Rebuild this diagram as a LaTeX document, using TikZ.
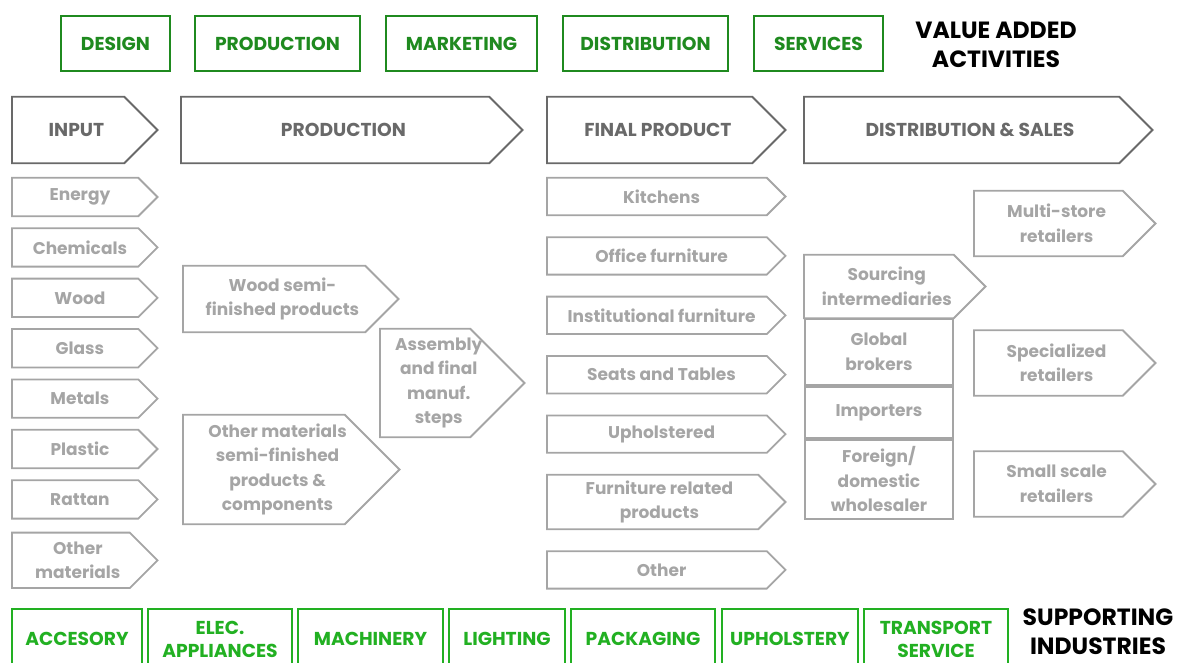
\documentclass[tikz,border=0pt]{standalone}
\usepackage{fontspec}
\setmainfont{Poppins}
\usetikzlibrary{positioning, calc}

\definecolor{vagreen}{RGB}{31,138,31}
\definecolor{sigreen}{RGB}{34,176,34}
\definecolor{headgray}{RGB}{105,105,105}
\definecolor{itemgray}{RGB}{165,165,165}

\newcommand{\capsfont}{\bfseries\fontsize{18.7}{23}\selectfont}
% pentagon outline round the last node, tip depth = half its height
\newcommand{\tagoutline}[1]{%
  \draw[#1, line width=1.8pt] let \p1=(\tikzlastnode.north), \p2=(\tikzlastnode.south), \n1={(\y1-\y2)/4} in
    (\tikzlastnode.north west) -- ([xshift=-\n1]\tikzlastnode.north east) -- ([xshift=\n1]\tikzlastnode.east)
    -- ([xshift=-\n1]\tikzlastnode.south east) -- (\tikzlastnode.south west) -- cycle;}

\begin{document}
\begin{tikzpicture}[
  x=1pt, y=-1pt,
  font=\bfseries\fontsize{17}{24.5}\selectfont,
  tagsize/.style 2 args={minimum width={#1pt-#2pt/4}, minimum height=#2pt},
  activity/.style={draw=vagreen, text=vagreen, line width=1.8pt, rectangle, minimum height=55pt, align=center, inner sep=0pt, font=\capsfont},
  industry/.style={draw=sigreen, text=sigreen, line width=1.8pt, rectangle, minimum height=60pt, align=center, inner sep=0pt, font=\capsfont},
  stage/.style={rectangle, inner sep=0pt, align=center, text=headgray, font=\capsfont, anchor=west,
    append after command={\pgfextra{\tagoutline{headgray}}}},
  item/.style={rectangle, inner sep=0pt, align=center, text=itemgray, anchor=west,
    append after command={\pgfextra{\tagoutline{itemgray}}}},
  channel/.style={draw=itemgray, text=itemgray, line width=1.8pt, rectangle, minimum width=148pt, align=center, inner sep=0pt},
  title/.style={align=center, font=\bfseries\fontsize{23.5}{29}\selectfont}
]
\clip (0,0) rectangle (1184,662);

% value added activities
\node[activity, minimum width=109pt] (design) at (115.5,43.5) {DESIGN};
\node[activity, minimum width=165pt, right=23.2pt of design] (vaproduction) {PRODUCTION};
\node[activity, minimum width=151pt, right=24.2pt of vaproduction] (marketing) {MARKETING};
\node[activity, minimum width=165pt, right=24.2pt of marketing] (vadistribution) {DISTRIBUTION};
\node[activity, minimum width=129pt, right=24.2pt of vadistribution] (services) {SERVICES};
\node[title] (valueadded) at (996,44.5) {VALUE ADDED\\ACTIVITIES};

% chain stages
\node[stage, tagsize={145}{66}] (input) at (12,130) {INPUT};
\node[stage, tagsize={341}{66}] (production) at (181,130) {PRODUCTION};
\node[stage, tagsize={238}{66}] (final) at (547,130) {FINAL PRODUCT};
\node[stage, tagsize={348}{66}] (distribution) at (804,130) {DISTRIBUTION \& SALES};

% inputs
\node[item, tagsize={145}{38}] (energy) at (12,197) {Energy};
\node[item, tagsize={145}{38}, below=12pt of energy.south west, anchor=north west] (chemicals) {Chemicals};
\node[item, tagsize={145}{38}, below=12pt of chemicals.south west, anchor=north west] (wood) {Wood};
\node[item, tagsize={145}{38}, below=12pt of wood.south west, anchor=north west] (glass) {Glass};
\node[item, tagsize={145}{38}, below=12pt of glass.south west, anchor=north west] (metals) {Metals};
\node[item, tagsize={145}{38}, below=12pt of metals.south west, anchor=north west] (plastic) {Plastic};
\node[item, tagsize={145}{38}, below=12pt of plastic.south west, anchor=north west] (rattan) {Rattan};
\node[item, tagsize={145}{55}, below=14pt of rattan.south west, anchor=north west] (othermat) {Other\\materials};

% production
\node[item, tagsize={215}{66}] (woodsemi) at (183,299) {Wood semi-\\finished products};
\node[item, tagsize={144}{108}] (assembly) at (380,383) {Assembly\\and final\\manuf.\\steps};
\node[item, tagsize={216}{109}] (othersemi) at (183,469.5) {Other materials\\semi-finished\\products \&\\components};

% final products
\node[item, tagsize={238}{37}] (kitchens) at (547,196.5) {Kitchens};
\node[item, tagsize={238}{37}, below=22pt of kitchens.south west, anchor=north west] (office) {Office furniture};
\node[item, tagsize={238}{37}, below=22pt of office.south west, anchor=north west] (institutional) {Institutional furniture};
\node[item, tagsize={238}{37}, below=22pt of institutional.south west, anchor=north west] (seats) {Seats and Tables};
\node[item, tagsize={238}{37}, below=22pt of seats.south west, anchor=north west] (upholstered) {Upholstered};
\node[item, tagsize={238}{54}, below=22pt of upholstered.south west, anchor=north west] (furnrel) {Furniture related\\products};
\node[item, tagsize={238}{37}, below=22pt of furnrel.south west, anchor=north west] (otherprod) {Other};

% distribution and sales
\node[item, tagsize={181}{63}] (sourcing) at (804,286.5) {Sourcing\\intermediaries};
\node[channel, minimum height=66pt] (brokers) at (879,352) {Global\\brokers};
\node[channel, minimum height=51pt, below=0pt of brokers] (importers) {Importers};
\node[channel, minimum height=79pt, below=0pt of importers] (wholesaler) {Foreign/\\domestic\\wholesaler};
\node[item, tagsize={181}{65}] (multistore) at (974,223.5) {Multi-store\\retailers};
\node[item, tagsize={181}{65}] (specialized) at (974,363) {Specialized\\retailers};
\node[item, tagsize={181}{65}] (smallscale) at (974,484) {Small scale\\retailers};

% supporting industries
\node[industry, minimum width=130pt] (accesory) at (77,639) {ACCESORY};
\node[industry, minimum width=144pt, right=4.2pt of accesory] (elecapp) {ELEC.\\APPLIANCES};
\node[industry, minimum width=145pt, right=4.2pt of elecapp] (machinery) {MACHINERY};
\node[industry, minimum width=116pt, right=4.2pt of machinery] (lighting) {LIGHTING};
\node[industry, minimum width=144pt, right=4.2pt of lighting] (packaging) {PACKAGING};
\node[industry, minimum width=136pt, right=5.2pt of packaging] (upholstery) {UPHOLSTERY};
\node[industry, minimum width=144pt, right=4.2pt of upholstery] (transport) {TRANSPORT\\SERVICE};
\node[title] (supporting) at (1098,632) {SUPPORTING\\INDUSTRIES};
\end{tikzpicture}
\end{document}
